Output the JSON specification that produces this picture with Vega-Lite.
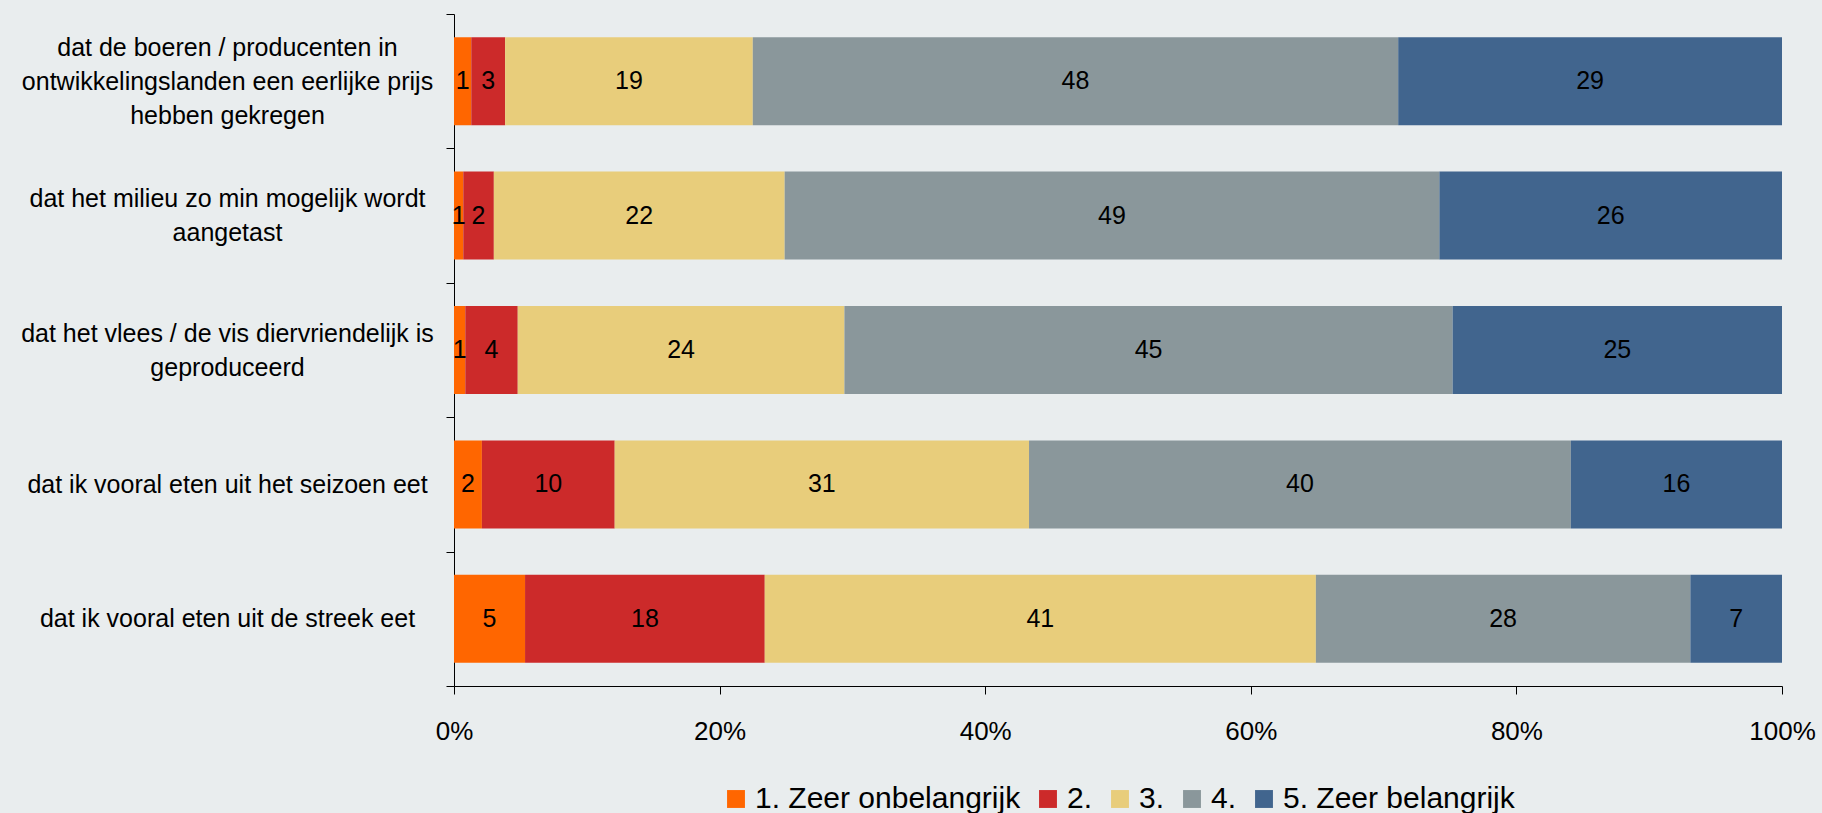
{
  "$schema": "https://vega.github.io/schema/vega-lite/v6.json",
  "autosize": "none",
  "width": 1328,
  "height": 672,
  "padding": {"left": 454, "top": 14, "right": 40, "bottom": 127},
  "background": "#E9EDEE",
  "data": {
    "values": [
      {"q": "dat de boeren / producenten in|ontwikkelingslanden een eerlijke prijs|hebben gekregen", "qi": 1, "k": 1, "cat": "1. Zeer onbelangrijk", "value": 1.3, "label": "1"},
      {"q": "dat de boeren / producenten in|ontwikkelingslanden een eerlijke prijs|hebben gekregen", "qi": 1, "k": 2, "cat": "2.", "value": 2.55, "label": "3"},
      {"q": "dat de boeren / producenten in|ontwikkelingslanden een eerlijke prijs|hebben gekregen", "qi": 1, "k": 3, "cat": "3.", "value": 18.65, "label": "19"},
      {"q": "dat de boeren / producenten in|ontwikkelingslanden een eerlijke prijs|hebben gekregen", "qi": 1, "k": 4, "cat": "4.", "value": 48.6, "label": "48"},
      {"q": "dat de boeren / producenten in|ontwikkelingslanden een eerlijke prijs|hebben gekregen", "qi": 1, "k": 5, "cat": "5. Zeer belangrijk", "value": 28.9, "label": "29"},
      {"q": "dat het milieu zo min mogelijk wordt|aangetast", "qi": 2, "k": 1, "cat": "1. Zeer onbelangrijk", "value": 0.7, "label": "1"},
      {"q": "dat het milieu zo min mogelijk wordt|aangetast", "qi": 2, "k": 2, "cat": "2.", "value": 2.3, "label": "2"},
      {"q": "dat het milieu zo min mogelijk wordt|aangetast", "qi": 2, "k": 3, "cat": "3.", "value": 21.9, "label": "22"},
      {"q": "dat het milieu zo min mogelijk wordt|aangetast", "qi": 2, "k": 4, "cat": "4.", "value": 49.3, "label": "49"},
      {"q": "dat het milieu zo min mogelijk wordt|aangetast", "qi": 2, "k": 5, "cat": "5. Zeer belangrijk", "value": 25.8, "label": "26"},
      {"q": "dat het vlees / de vis diervriendelijk is|geproduceerd", "qi": 3, "k": 1, "cat": "1. Zeer onbelangrijk", "value": 0.85, "label": "1"},
      {"q": "dat het vlees / de vis diervriendelijk is|geproduceerd", "qi": 3, "k": 2, "cat": "2.", "value": 3.95, "label": "4"},
      {"q": "dat het vlees / de vis diervriendelijk is|geproduceerd", "qi": 3, "k": 3, "cat": "3.", "value": 24.6, "label": "24"},
      {"q": "dat het vlees / de vis diervriendelijk is|geproduceerd", "qi": 3, "k": 4, "cat": "4.", "value": 45.8, "label": "45"},
      {"q": "dat het vlees / de vis diervriendelijk is|geproduceerd", "qi": 3, "k": 5, "cat": "5. Zeer belangrijk", "value": 24.8, "label": "25"},
      {"q": "dat ik vooral eten uit het seizoen eet", "qi": 4, "k": 1, "cat": "1. Zeer onbelangrijk", "value": 2.1, "label": "2"},
      {"q": "dat ik vooral eten uit het seizoen eet", "qi": 4, "k": 2, "cat": "2.", "value": 10.0, "label": "10"},
      {"q": "dat ik vooral eten uit het seizoen eet", "qi": 4, "k": 3, "cat": "3.", "value": 31.2, "label": "31"},
      {"q": "dat ik vooral eten uit het seizoen eet", "qi": 4, "k": 4, "cat": "4.", "value": 40.8, "label": "40"},
      {"q": "dat ik vooral eten uit het seizoen eet", "qi": 4, "k": 5, "cat": "5. Zeer belangrijk", "value": 15.9, "label": "16"},
      {"q": "dat ik vooral eten uit de streek eet", "qi": 5, "k": 1, "cat": "1. Zeer onbelangrijk", "value": 5.35, "label": "5"},
      {"q": "dat ik vooral eten uit de streek eet", "qi": 5, "k": 2, "cat": "2.", "value": 18.05, "label": "18"},
      {"q": "dat ik vooral eten uit de streek eet", "qi": 5, "k": 3, "cat": "3.", "value": 41.5, "label": "41"},
      {"q": "dat ik vooral eten uit de streek eet", "qi": 5, "k": 4, "cat": "4.", "value": 28.2, "label": "28"},
      {"q": "dat ik vooral eten uit de streek eet", "qi": 5, "k": 5, "cat": "5. Zeer belangrijk", "value": 6.9, "label": "7"}
    ]
  },
  "transform": [
    {"stack": "value", "groupby": ["q"], "sort": [{"field": "k", "order": "ascending"}], "offset": "normalize", "as": ["v0", "v1"]},
    {"calculate": "(datum.v0 + datum.v1) / 2", "as": "vm"}
  ],
  "encoding": {
    "y": {
      "field": "q", "type": "nominal",
      "sort": {"field": "qi", "op": "min", "order": "ascending"},
      "scale": {"paddingInner": 0, "paddingOuter": 0},
      "axis": {
        "title": null,
        "labelExpr": "split(datum.label, '|')",
        "labelAlign": "center",
        "labelBaseline": "middle",
        "labelPadding": 219,
        "labelLimit": 0,
        "labelLineHeight": 34,
        "labelOffset": {
          "condition": [
            {"test": "length(split(datum.value, '|')) == 3", "value": -34},
            {"test": "length(split(datum.value, '|')) == 2", "value": -17}
          ],
          "value": 0
        },
        "labelFont": "Liberation Sans",
        "labelFontSize": 25,
        "labelColor": "#000000",
        "tickBand": "extent",
        "tickSize": 8,
        "tickColor": "#000000",
        "domainColor": "#000000",
        "grid": false
      }
    }
  },
  "layer": [
    {
      "mark": {"type": "bar", "height": {"band": 0.655}},
      "encoding": {
        "x": {
          "field": "v0", "type": "quantitative",
          "scale": {"domain": [0, 1], "nice": false},
          "axis": {
            "title": null,
            "format": "%",
            "values": [0, 0.2, 0.4, 0.6, 0.8, 1],
            "grid": false,
            "tickSize": 8,
            "tickColor": "#000000",
            "domainColor": "#000000",
            "labelPadding": 24,
            "labelFont": "Liberation Sans",
            "labelFontSize": 26,
            "labelColor": "#000000",
            "labelFlush": false
          }
        },
        "x2": {"field": "v1"},
        "color": {
          "field": "cat", "type": "nominal",
          "sort": ["1. Zeer onbelangrijk", "2.", "3.", "4.", "5. Zeer belangrijk"],
          "scale": {
            "domain": ["1. Zeer onbelangrijk", "2.", "3.", "4.", "5. Zeer belangrijk"],
            "range": ["#FF6600", "#CC2A2A", "#E8CD7B", "#8A979B", "#41658E"]
          },
          "legend": {
            "title": null,
            "orient": "bottom",
            "direction": "horizontal",
            "symbolType": "square",
            "symbolSize": 320,
            "symbolStrokeWidth": 0,
            "symbolOpacity": 1,
            "labelFont": "Liberation Sans",
            "labelFontSize": 30,
            "labelColor": "#000000",
            "labelLimit": 0,
            "labelOffset": 4,
            "columnPadding": 12,
            "offset": 40
          }
        }
      }
    },
    {
      "mark": {"type": "text", "font": "Liberation Sans", "fontSize": 25, "color": "#000000", "align": "center", "baseline": "middle"},
      "encoding": {
        "x": {"field": "vm", "type": "quantitative"},
        "text": {"field": "label"}
      }
    }
  ],
  "config": {
    "view": {"stroke": null},
    "legend": {"layout": {"bottom": {"anchor": "middle"}}}
  }
}
